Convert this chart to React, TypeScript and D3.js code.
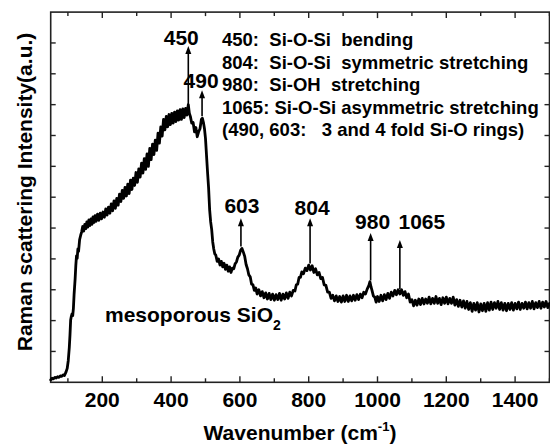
import React from 'react';
import * as d3 from 'd3';

// Raman spectrum of mesoporous SiO2: [wavenumber (cm-1), intensity (a.u.)]
const spectrum: [number, number][] = [
  [50, 8], [54, 13], [58, 11], [62, 16], [66, 14], [70, 18], [74, 16], [78, 21], [82, 19], [86, 24],
  [90, 22], [94, 32], [98, 45], [101, 70], [104, 112], [106, 152], [108, 202], [110, 214], [112, 222], [114, 216],
  [116, 240], [118, 285], [121, 335], [123, 378], [125, 410], [127, 402], [129, 432], [131, 424], [134, 462], [137, 476],
  [140, 488], [143, 505], [146, 490], [149, 512], [152, 498], [155, 520], [158, 503], [161, 526], [164, 508], [167, 530],
  [170, 512], [173, 536], [176, 518], [179, 540], [182, 522], [186, 545], [190, 525], [194, 548], [198, 530], [202, 552],
  [206, 535], [210, 562], [214, 542], [218, 568], [222, 548], [226, 578], [230, 556], [234, 588], [238, 564], [242, 596],
  [246, 574], [250, 610], [254, 586], [258, 622], [262, 596], [266, 632], [270, 604], [274, 642], [278, 612], [282, 655],
  [286, 625], [290, 662], [294, 638], [298, 680], [302, 648], [306, 692], [310, 665], [314, 710], [318, 678], [322, 725],
  [326, 690], [330, 740], [334, 700], [338, 758], [342, 722], [346, 772], [350, 738], [354, 785], [358, 752], [362, 808],
  [366, 775], [370, 828], [374, 798], [378, 852], [382, 818], [386, 862], [390, 828], [394, 868], [398, 835], [402, 872],
  [406, 840], [410, 876], [414, 845], [418, 880], [422, 850], [426, 884], [430, 852], [434, 886], [438, 858], [442, 888],
  [446, 866], [450, 900], [453, 872], [456, 862], [460, 840], [464, 842], [468, 812], [472, 826], [476, 796], [480, 812],
  [484, 822], [488, 852], [491, 856], [494, 842], [497, 822], [500, 790], [503, 735], [506, 680], [509, 630], [512, 560],
  [515, 520], [518, 495], [521, 455], [524, 432], [527, 416], [530, 412], [534, 392], [538, 400], [542, 380], [546, 392],
  [550, 374], [554, 386], [558, 366], [562, 380], [566, 360], [570, 374], [574, 356], [578, 370], [582, 368], [586, 384],
  [590, 390], [594, 406], [598, 412], [602, 428], [606, 434], [610, 422], [614, 408], [618, 382], [622, 368], [626, 348],
  [630, 342], [634, 318], [638, 316], [642, 298], [646, 306], [650, 286], [655, 300], [660, 280], [665, 294], [670, 274],
  [675, 290], [680, 270], [685, 288], [690, 268], [695, 286], [700, 266], [705, 284], [710, 268], [715, 288], [720, 266],
  [725, 286], [730, 270], [735, 290], [740, 272], [745, 292], [750, 280], [755, 298], [760, 296], [764, 316], [768, 318],
  [772, 340], [776, 340], [780, 358], [785, 352], [790, 370], [795, 362], [800, 380], [805, 364], [810, 378], [815, 356],
  [820, 368], [825, 348], [830, 356], [835, 336], [840, 340], [845, 316], [850, 314], [855, 292], [860, 292], [865, 272],
  [870, 282], [875, 264], [880, 280], [885, 262], [890, 278], [895, 260], [900, 280], [905, 262], [910, 282], [915, 262],
  [920, 280], [925, 264], [930, 282], [935, 266], [940, 284], [945, 268], [950, 286], [955, 274], [960, 292], [965, 286],
  [970, 302], [975, 314], [978, 326], [981, 310], [984, 298], [988, 280], [992, 276], [996, 260], [1000, 278], [1005, 262],
  [1010, 282], [1015, 264], [1020, 284], [1025, 268], [1030, 288], [1035, 272], [1040, 292], [1045, 280], [1050, 298], [1055, 284],
  [1060, 300], [1065, 286], [1070, 300], [1075, 282], [1080, 294], [1085, 274], [1090, 286], [1095, 260], [1100, 268], [1105, 248],
  [1110, 266], [1115, 250], [1120, 270], [1125, 252], [1130, 272], [1135, 254], [1140, 270], [1145, 256], [1150, 276], [1155, 254],
  [1160, 272], [1165, 256], [1170, 278], [1175, 256], [1180, 272], [1185, 252], [1190, 274], [1195, 256], [1200, 276], [1205, 254],
  [1210, 272], [1215, 256], [1220, 276], [1225, 250], [1230, 268], [1235, 246], [1240, 266], [1245, 244], [1250, 264], [1255, 240],
  [1260, 262], [1265, 236], [1270, 258], [1275, 230], [1280, 256], [1285, 234], [1290, 258], [1295, 228], [1300, 254], [1305, 232],
  [1310, 256], [1315, 230], [1320, 258], [1325, 234], [1330, 260], [1335, 236], [1340, 258], [1345, 240], [1350, 262], [1355, 236],
  [1360, 258], [1365, 234], [1370, 256], [1375, 232], [1380, 256], [1385, 236], [1390, 258], [1395, 234], [1400, 256], [1405, 238],
  [1410, 260], [1415, 236], [1420, 256], [1425, 240], [1430, 260], [1435, 238], [1440, 258], [1445, 240], [1450, 262], [1455, 238],
  [1460, 258], [1465, 242], [1470, 262], [1475, 240], [1480, 260], [1485, 244], [1490, 262], [1495, 242], [1500, 256],
];

const xMajorTicks = [200, 400, 600, 800, 1000, 1200, 1400];
const xMinorTicks = [100, 300, 500, 700, 900, 1100, 1300, 1500];
const yTicks = [100, 200, 300, 400, 500, 600, 700, 800, 900, 1000, 1100];

const peakPositions = [450, 490, 603, 804, 980, 1065];
const peakLabels = ['450', '490', '603', '804', '980', '1065'];
const arrowTipLevels = [1090, 947, 532, 532, 484, 461];
const arrowBaseLevels = [895, 862, 440, 385, 330, 302];
const labelLevels = [1093, 955, 548, 541, 496, 496];
const labelShifts = [-7, -1, 1, 2, 2, 22];

const assignments = [
  '450:  Si-O-Si  bending',
  '804:  Si-O-Si  symmetric stretching',
  '980:  Si-OH  stretching',
  '1065: Si-O-Si asymmetric stretching',
  '(490, 603:   3 and 4 fold Si-O rings)',
];

const W = 550;
const H = 446;
const FONT = '"Liberation Sans", Arial, Helvetica, sans-serif';

export default function App() {
  const x = d3.scaleLinear().domain([50, 1500]).range([50.7, 549.5]);
  const y = d3.scaleLinear().domain([0, 1200]).range([382.3, 12.1]);
  const line = d3
    .line<[number, number]>()
    .x((d) => x(d[0]))
    .y((d) => y(d[1]));

  const x0 = x(50);
  const x1 = x(1500);
  const y0 = y(0);
  const y1 = y(1200);

  return (
    <svg
      width={W}
      height={H}
      style={{ position: 'absolute', left: 0, top: 0, background: '#fff' }}
      fontFamily={FONT}
      fontWeight="bold"
    >
      <rect x={0} y={0} width={W} height={H} fill="#fff" />
      {/* frame */}
      <rect x={x0} y={y1} width={x1 - x0} height={y0 - y1} fill="none" stroke="#222" strokeWidth={1.6} />
      {/* x ticks */}
      {xMajorTicks.map((t) => (
        <g key={'M' + t}>
          <line x1={x(t)} x2={x(t)} y1={y0} y2={y0 - 6} stroke="#222" strokeWidth={1.4} />
          <line x1={x(t)} x2={x(t)} y1={y1} y2={y1 + 6} stroke="#222" strokeWidth={1.4} />
          <text x={x(t)} y={407} textAnchor="middle" fontSize={21} fill="#000">
            {t}
          </text>
        </g>
      ))}
      {xMinorTicks.map((t) => (
        <g key={'m' + t}>
          <line x1={x(t)} x2={x(t)} y1={y0} y2={y0 - 4} stroke="#222" strokeWidth={1.4} />
          <line x1={x(t)} x2={x(t)} y1={y1} y2={y1 + 4} stroke="#222" strokeWidth={1.4} />
        </g>
      ))}
      {/* y ticks */}
      {yTicks.map((t) => (
        <g key={'y' + t}>
          <line x1={x0} x2={x0 + 5} y1={y(t)} y2={y(t)} stroke="#222" strokeWidth={1.4} />
          <line x1={x1} x2={x1 - 5} y1={y(t)} y2={y(t)} stroke="#222" strokeWidth={1.4} />
        </g>
      ))}

      {/* spectrum */}
      <path
        d={line(spectrum) || ''}
        fill="none"
        stroke="#000"
        strokeWidth={2.8}
        strokeLinejoin="round"
        strokeLinecap="round"
      />

      {/* peak arrows and labels */}
      {peakPositions.map((p, i) => {
        const px = x(p);
        const tip = y(arrowTipLevels[i]);
        const base = y(arrowBaseLevels[i]);
        return (
          <g key={'p' + p}>
            <line x1={px} x2={px} y1={tip + 6} y2={base} stroke="#000" strokeWidth={1.6} />
            <polygon points={`${px},${tip} ${px - 3},${tip + 8} ${px + 3},${tip + 8}`} fill="#000" />
            <text x={px + labelShifts[i]} y={y(labelLevels[i])} textAnchor="middle" fontSize={21} fill="#000">
              {peakLabels[i]}
            </text>
          </g>
        );
      })}

      {/* assignments */}
      {assignments.map((s, i) => (
        <text
          key={'a' + i}
          x={222}
          y={46 + i * 22.6}
          fontSize={18.5}
          fill="#000"
          style={{ whiteSpace: 'pre' }}
        >
          {s}
        </text>
      ))}

      {/* sample label */}
      <text x={105} y={322} fontSize={21} fill="#000">
        mesoporous SiO
        <tspan fontSize={14} dy={8}>
          2
        </tspan>
      </text>

      {/* axis titles */}
      <text x={300} y={440} textAnchor="middle" fontSize={21} fill="#000">
        Wavenumber (cm
        <tspan fontSize={13} dy={-9}>
          -1
        </tspan>
        <tspan dy={9}>)</tspan>
      </text>
      <text
        transform="translate(32,192) rotate(-90)"
        textAnchor="middle"
        fontSize={21}
        fill="#000"
      >
        Raman scattering Intensity(a.u.)
      </text>
    </svg>
  );
}
